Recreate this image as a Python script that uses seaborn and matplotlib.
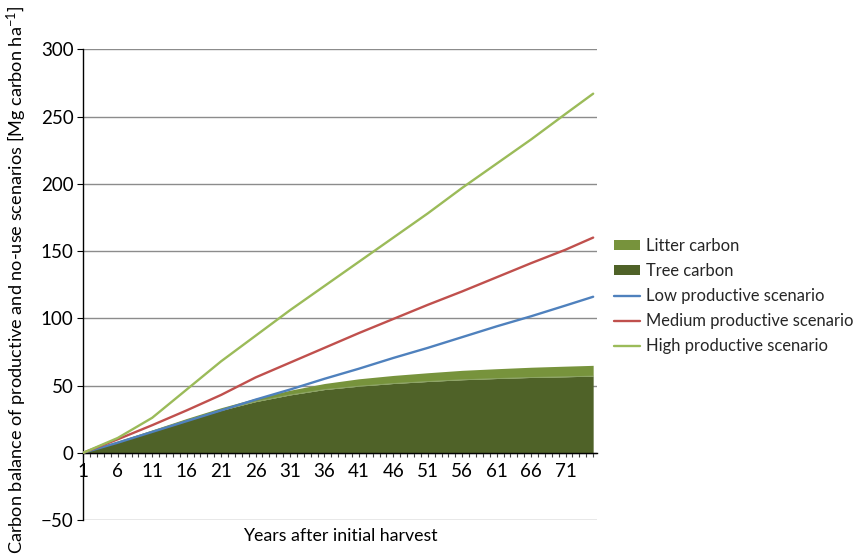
import matplotlib
matplotlib.use("Agg")
import matplotlib.pyplot as plt
from matplotlib.patches import Patch
from matplotlib.lines import Line2D
import seaborn as sns
import pandas as pd

# Years after the initial harvest at which values are given
years = [1, 6, 11, 16, 21, 26, 31, 36, 41, 46, 51, 56, 61, 66, 71, 75]

# Carbon balance of the productive scenarios [Mg C / ha]
low_productive = [0, 7.5, 15.5, 23.5, 31.5, 39.5, 47, 55, 62.5, 70.5, 78, 86, 94, 101.5, 109.5, 116]
medium_productive = [0, 10, 20.5, 31.5, 43, 56, 67, 78, 89, 99.5, 110, 120, 130.5, 141, 151, 160]
high_productive = [0, 11, 26, 47, 68, 87, 106, 124, 142, 160, 178, 197, 215, 233, 252, 267]

# No-use scenario: carbon stock in trees and litter (stacked)
tree_carbon = [0, 8, 16, 24, 31.5, 38, 43, 47, 49.5, 51.5, 53, 54.3, 55.2, 56, 56.5, 57]
litter_carbon = [0, 0.5, 1, 1.5, 2, 2.5, 3.5, 4.5, 5.5, 6, 6.5, 7, 7.3, 7.6, 7.9, 8]

scenario_names = ["Low productive scenario", "Medium productive scenario", "High productive scenario"]
scenario_colors = ["#4F81BD", "#C0504D", "#9BBB59"]
tree_color = "#4F6228"
litter_color = "#77933C"

y_ticks = [-50, 0, 50, 100, 150, 200, 250, 300]
x_tick_labels = [1, 6, 11, 16, 21, 26, 31, 36, 41, 46, 51, 56, 61, 66, 71]

lines_df = pd.DataFrame({
    "Year": years * 3,
    "Carbon": low_productive + medium_productive + high_productive,
    "Scenario": [scenario_names[0]] * len(years)
    + [scenario_names[1]] * len(years)
    + [scenario_names[2]] * len(years),
})

sns.set_theme(style="white")
plt.rcParams["font.family"] = ["Lato", "DejaVu Sans"]
plt.rcParams["mathtext.fontset"] = "custom"
plt.rcParams["mathtext.rm"] = "Lato"
plt.rcParams["mathtext.it"] = "Lato"
plt.rcParams["mathtext.default"] = "regular"

W, H = 856, 557
fig = plt.figure(figsize=(W / 100, H / 100), dpi=100)
x0, x1, y_top, y_bot = 83.3, 597, 49.3, 520
ax = fig.add_axes([x0 / W, (H - y_bot) / H, (x1 - x0) / W, (y_bot - y_top) / H])

# Stacked areas of the no-use scenario
total = [t + l for t, l in zip(tree_carbon, litter_carbon)]
ax.fill_between(years, 0, tree_carbon, color=tree_color, linewidth=0, zorder=2)
ax.fill_between(years, tree_carbon, total, color=litter_color, linewidth=0, zorder=2)
ax.plot(years, tree_carbon, color="#8FA66A", linewidth=0.6, zorder=2.5)

# Productive scenarios
sns.lineplot(data=lines_df, x="Year", y="Carbon", hue="Scenario",
             hue_order=scenario_names, palette=scenario_colors,
             linewidth=1.7, legend=False, ax=ax, zorder=3)

ax.set_xlim(1, 1 + (x1 - x0) / 6.89)
ax.set_ylim(-50, 300)

# Axes styling: grey gridlines, black axis lines
for s in ["top", "right"]:
    ax.spines[s].set_visible(False)
ax.spines["left"].set_color("black")
ax.spines["left"].set_linewidth(1.0)
ax.set_yticks(y_ticks)
ax.yaxis.grid(True, color="#8C8C8C", linewidth=1.0)
ax.xaxis.grid(False)
ax.set_axisbelow(True)

ax.set_xticks(list(range(1, 76)))
ax.set_xticklabels([str(v) if v in x_tick_labels else "" for v in range(1, 76)])
ax.tick_params(axis="x", direction="out", length=3.2, width=0.8, color="#404040",
               pad=4, labelsize=13.5, labelcolor="black", bottom=True)
ax.tick_params(axis="y", direction="out", length=4, width=0.8, color="black",
               pad=3, labelsize=13.5, labelcolor="black", left=True)
ax.xaxis.set_ticks_position("bottom")
# x-axis line, ticks and labels run along the zero line
ax.spines["bottom"].set_position(("data", 0))
ax.spines["bottom"].set_color("black")
ax.spines["bottom"].set_linewidth(1.0)
ax.spines["bottom"].set_zorder(2.8)

ax.set_xlabel("Years after initial harvest", fontsize=12.8, color="black")
ax.xaxis.set_label_coords(0.5, (y_bot - 528) / (y_bot - y_top))
ax.set_ylabel("Carbon balance of productive and no-use scenarios [Mg carbon ha$^{-1}$]",
              fontsize=13.1, color="black")
ax.yaxis.set_label_coords((29 - x0) / (x1 - x0), (y_bot - 280) / (y_bot - y_top))

handles = [
    Patch(facecolor=litter_color, edgecolor="none", label="Litter carbon"),
    Patch(facecolor=tree_color, edgecolor="none", label="Tree carbon"),
] + [Line2D([0], [0], color=c, linewidth=1.7, label=n)
     for n, c in zip(scenario_names, scenario_colors)]
fig.legend(handles=handles, loc="upper left", bbox_to_anchor=(614 / W, 1 - 238 / H),
           frameon=False, fontsize=11.9, handlelength=1.55, handleheight=0.55,
           handletextpad=0.4, labelspacing=0.55, borderaxespad=0, borderpad=0)

fig.savefig("out.png", dpi=100)
